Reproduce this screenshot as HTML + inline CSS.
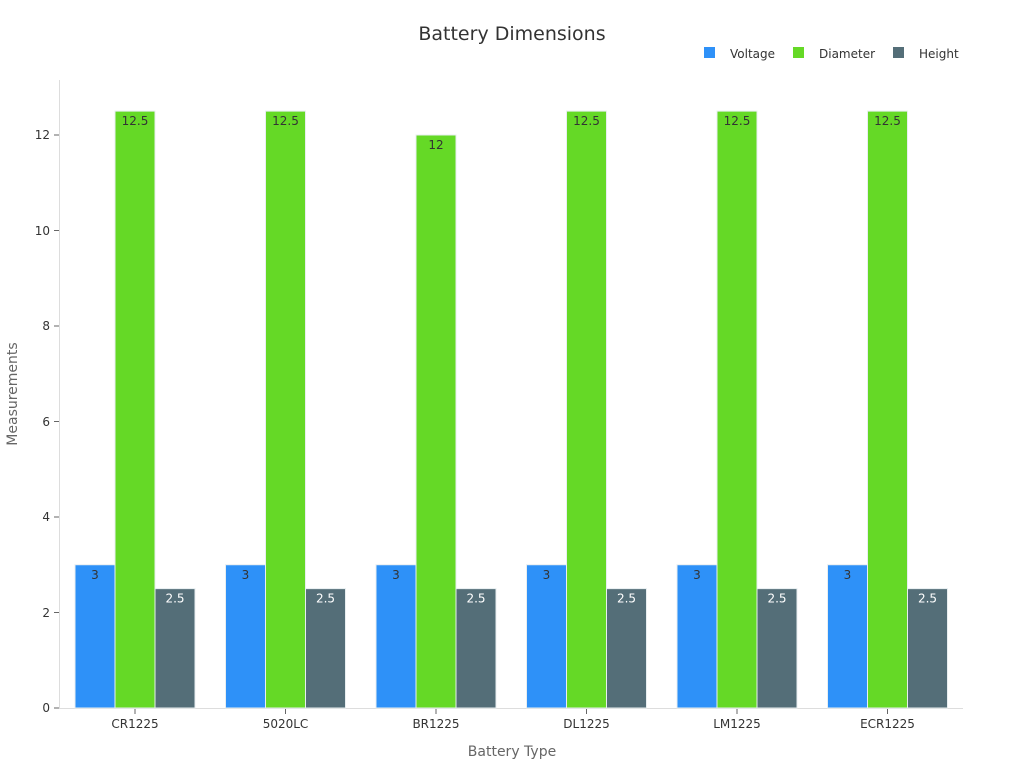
<!DOCTYPE html>
<html><head><meta charset="utf-8"><style>body{margin:0;background:#fff}svg{display:block}text{font-family:"DejaVu Sans","Liberation Sans",sans-serif}</style></head>
<body>
<svg width="1024" height="768" viewBox="0 0 1024 768">
<text x="512" y="40" text-anchor="middle" font-size="19" fill="#333">Battery Dimensions</text>
<rect x="704" y="47" width="11" height="11" fill="#2e91f8"/><text x="730" y="58" font-size="12" fill="#333">Voltage</text>
<rect x="793" y="47" width="11" height="11" fill="#65d926"/><text x="819" y="58" font-size="12" fill="#333">Diameter</text>
<rect x="893" y="47" width="11" height="11" fill="#546e78"/><text x="919" y="58" font-size="12" fill="#333">Height</text>
<line x1="59.5" y1="80" x2="59.5" y2="708" stroke="#ddd"/>
<line x1="59" y1="708.5" x2="963" y2="708.5" stroke="#ddd"/>
<g font-size="12" fill="#333" text-anchor="end">
<line x1="54" x2="59" y1="708" y2="708" stroke="#666"/><text x="50" y="712">0</text>
<line x1="54" x2="59" y1="612.5" y2="612.5" stroke="#666"/><text x="50" y="617">2</text>
<line x1="54" x2="59" y1="517" y2="517" stroke="#666"/><text x="50" y="521">4</text>
<line x1="54" x2="59" y1="421.5" y2="421.5" stroke="#666"/><text x="50" y="426">6</text>
<line x1="54" x2="59" y1="326" y2="326" stroke="#666"/><text x="50" y="330">8</text>
<line x1="54" x2="59" y1="230.5" y2="230.5" stroke="#666"/><text x="50" y="235">10</text>
<line x1="54" x2="59" y1="135" y2="135" stroke="#666"/><text x="50" y="139">12</text>
</g>
<text transform="translate(17,394) rotate(-90)" text-anchor="middle" font-size="14" fill="#666">Measurements</text>
<text x="512" y="756" text-anchor="middle" font-size="14" fill="#666">Battery Type</text>
<g id="bars" stroke="#e8eef0" stroke-width="1"></g>
<g id="labels"></g>
</svg>
<script>
var names=["CR1225","5020LC","BR1225","DL1225","LM1225","ECR1225"],dia=[12.5,12.5,12,12.5,12.5,12.5];
var svg=document.querySelector("svg"),ns="http://www.w3.org/2000/svg",g=document.getElementById("bars"),lg=document.getElementById("labels");
function el(p,t,a,txt){var e=document.createElementNS(ns,t);for(var k in a)e.setAttribute(k,a[k]);if(txt!==undefined)e.textContent=txt;p.appendChild(e);return e;}
function Y(v){return 708-v*47.75;}
for(var i=0;i<6;i++){var c=135+150.5*i;
[[3,"#2e91f8",-60,"#333"],[dia[i],"#65d926",-20,"#333"],[2.5,"#546e78",20,"#fff"]].forEach(function(s){
el(g,"rect",{x:c+s[2],y:Y(s[0]),width:40,height:s[0]*47.75,fill:s[1]});
el(lg,"text",{x:c+s[2]+20,y:Y(s[0])+14,"text-anchor":"middle","font-size":12,fill:s[3]},String(s[0]));
});
el(svg,"line",{x1:c,x2:c,y1:709,y2:714,stroke:"#666"});
el(svg,"text",{x:c,y:728,"text-anchor":"middle","font-size":12,fill:"#333"},names[i]);
}
</script>
</body></html>
